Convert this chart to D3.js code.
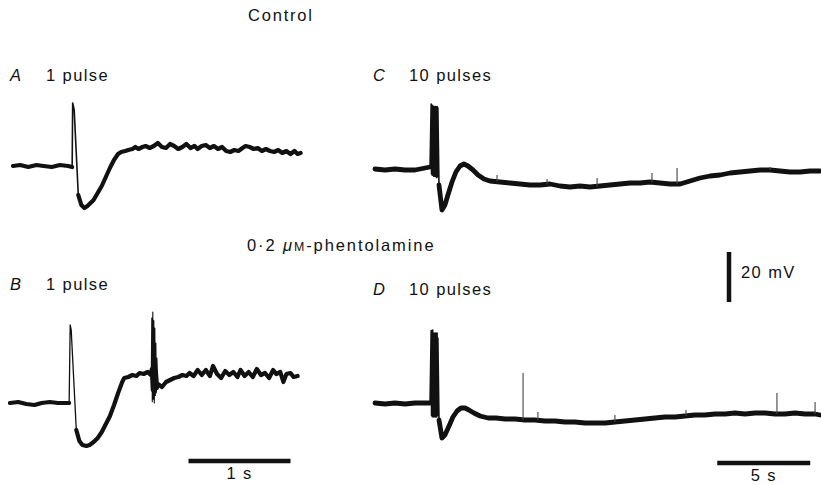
<!DOCTYPE html>
<html>
<head>
<meta charset="utf-8">
<script src="https://cdn.jsdelivr.net/npm/d3@7"></script>
<style>
  html, body { margin: 0; padding: 0; background: #fff; }
  svg { display: block; }
  text { font-family: "Liberation Sans", Arial, sans-serif; fill: #111; }
</style>
</head>
<body>
<svg id="chart"></svg>
<script>
const width = 821;
const height = 485;

// [time (s), membrane potential (mV)], null = gap where the fast spike is drawn thin
const traceA = [[0,0],[0.07,0.4],[0.15,-0.4],[0.23,0.4],[0.30,0],[0.38,-0.4],[0.46,0.4],[0.54,0],[0.58,-0.4],[0.61,null],
  [0.64,-11.6],[0.67,-15.6],[0.70,-16.8],[0.73,-16],[0.75,-15.2],[0.79,-13.6],[0.83,-10.8],[0.87,-8],[0.91,-4.4],[0.95,-0.8],
  [0.99,2.4],[1.03,4.8],[1.06,5.6],[1.10,6],[1.13,6.4],[1.17,6.8],[1.20,7.6],[1.23,6.8],[1.27,7.6],[1.30,8],[1.34,7.2],
  [1.38,8],[1.42,9.2],[1.46,7.6],[1.50,7.2],[1.54,8.8],[1.58,8],[1.62,6.8],[1.66,7.6],[1.70,8.8],[1.74,7.2],[1.78,8],
  [1.81,6.8],[1.85,8],[1.89,8.4],[1.93,7.2],[1.97,8],[2.01,6.8],[2.05,7.6],[2.09,6],[2.13,5.6],[2.17,6.4],[2.21,6],
  [2.25,7.2],[2.28,8],[2.32,7.6],[2.36,6.8],[2.40,7.2],[2.44,6],[2.48,6.8],[2.52,6],[2.56,5.6],[2.60,6.4],[2.64,5.2],
  [2.68,6],[2.72,4.8],[2.76,6],[2.79,4.8],[2.82,5.2]];
const spikeA = [[0.58,-0.4],[0.585,25.2],[0.60,22.4],[0.64,-11.6]];

const traceB = [[0,0],[0.08,0.4],[0.16,-0.4],[0.24,-0.8],[0.31,0],[0.39,0.4],[0.47,0],[0.55,0],[0.58,0],[0.62,null],
  [0.65,-10.8],[0.68,-15.2],[0.71,-16.8],[0.75,-17.2],[0.78,-16.8],[0.82,-15.6],[0.86,-14],[0.90,-11.6],[0.94,-8.4],
  [0.98,-5.2],[1.02,-0.8],[1.06,4],[1.10,8.4],[1.12,10],[1.16,10.4],[1.20,11.2],[1.24,10.8],[1.27,12],[1.31,11.6],
  [1.35,12.4],[1.38,11.2],[1.39,13.6],[1.40,5.2],[1.41,14],[1.42,4.4],[1.43,12],[1.44,6],[1.45,7.6],[1.49,6.4],[1.53,8.4],
  [1.57,9.2],[1.61,10],[1.65,10.4],[1.69,11.2],[1.73,10.8],[1.76,12],[1.80,10.8],[1.84,13.2],[1.88,11.2],[1.92,13.2],
  [1.96,10.8],[1.99,14.8],[2.03,11.6],[2.07,10],[2.11,12.8],[2.15,11.2],[2.19,12.4],[2.23,10.4],[2.26,13.2],[2.30,10.8],
  [2.34,12.4],[2.38,10.4],[2.42,13.6],[2.46,11.2],[2.50,12],[2.54,10],[2.58,13.2],[2.61,11.6],[2.65,12.4],[2.68,8.4],
  [2.71,11.6],[2.75,12],[2.78,10.4],[2.82,10.8]];
const spikeB = [[0.58,0],[0.59,31.2],[0.60,29.2],[0.65,-10.8]];
const burstB = [[1.385,11],[1.39,34],[1.395,0.5],[1.40,36.4],[1.405,1.5],[1.41,33],[1.415,0],[1.42,30],[1.425,3],
  [1.43,24],[1.435,5],[1.44,18],[1.45,7.6]];

const traceC = [[0,0],[0.54,-0.4],[1.08,0],[1.61,-0.4],[2.15,-0.4],[2.69,0.4],[2.96,0.8],[3.2,null],
  [3.44,-6.4],[3.60,-16.4],[3.76,-14.4],[3.92,-10.4],[4.14,-5.2],[4.35,-1.2],[4.57,1.2],[4.78,2],[5.0,1.2],[5.27,-0.4],
  [5.54,-2.4],[5.86,-4],[6.18,-4.8],[6.72,-5.2],[7.26,-5.6],[7.8,-6],[8.33,-6.4],[8.87,-6.4],[9.41,-6],[9.95,-6.8],
  [10.48,-7.2],[11.02,-6.8],[11.56,-7.2],[12.1,-6.8],[12.63,-6.4],[13.17,-6],[13.71,-5.6],[14.25,-5.6],[14.78,-5.2],
  [15.32,-5.6],[15.86,-6],[16.4,-6],[16.94,-4.8],[17.47,-3.6],[18.01,-2.8],[18.55,-2.4],[19.09,-1.6],[19.62,-1.2],
  [20.16,-0.8],[20.7,-0.4],[21.24,-0.4],[21.77,-0.8],[22.31,-1.2],[22.85,-1.2],[23.39,-0.8],[23.92,-0.8]];
const burstC = [[2.96,0.8],[3.02,26],[3.04,-2],[3.06,25],[3.08,-2.5],[3.10,25.5],[3.12,-2],[3.14,24],[3.16,-3],[3.18,25],
  [3.20,-2.5],[3.22,24.5],[3.24,-3],[3.26,25],[3.28,-3],[3.30,24],[3.32,-3.5],[3.34,25],[3.36,-3],[3.38,24.5],[3.44,-6.4]];
// [time, from mV, to mV]
const eventsC = [[6.56,-5,-2.4],[9.25,-6.2,-4],[11.94,-7,-3.6],[14.89,-5.2,-1.6],[16.24,-6,0.4],[21.24,-0.4,0.8]];

const traceD = [[0,0],[0.54,-0.4],[1.08,0],[1.61,-0.4],[2.15,0],[2.69,0],[2.96,0],[3.2,null],
  [3.44,-6.8],[3.60,-14],[3.76,-12.8],[3.98,-9.2],[4.19,-5.6],[4.41,-3.2],[4.62,-2],[4.84,-2],[5.05,-2.8],[5.32,-4],
  [5.65,-5.2],[6.08,-6],[6.51,-6],[6.99,-6.4],[7.53,-6.4],[8.06,-6.8],[8.6,-6.8],[9.14,-7.2],[9.68,-7.2],[10.22,-7.6],
  [10.75,-7.6],[11.29,-8],[11.83,-8],[12.37,-8],[12.9,-7.6],[13.44,-7.2],[13.98,-6.8],[14.52,-6.4],[15.05,-6],
  [15.59,-5.6],[16.13,-5.6],[16.67,-5.2],[17.2,-4.8],[17.74,-4.8],[18.28,-4.4],[18.82,-4.4],[19.35,-4],[19.89,-4.4],
  [20.43,-4],[20.97,-4],[21.51,-4.4],[22.04,-4.4],[22.58,-4],[23.12,-4.4],[23.66,-4.4],[23.92,-4.8]];
const burstD = [[2.96,0],[3.02,29],[3.04,-5],[3.06,28],[3.08,-5.5],[3.10,29.2],[3.12,-5],[3.14,27],[3.16,-5.6],[3.18,28],
  [3.20,-5],[3.22,27.5],[3.24,-5.6],[3.26,28],[3.28,-5],[3.30,27],[3.32,-5.6],[3.34,28],[3.36,-5],[3.38,26],[3.44,-6.8]];
const eventsD = [[7.96,-6.8,12],[8.76,-6.8,-3.6],[12.9,-7.6,-4.8],[16.72,-5.2,-2.8],[21.61,-4.4,4],[23.66,-4.4,0.4]];

const panelLetters = ["A", "B", "C", "D"];
const panelTitles = ["1 pulse", "1 pulse", "10 pulses", "10 pulses"];
const scaleTime = [1, 5];          // s
const scaleTimeLabels = ["1 s", "5 s"];
const scaleVolt = 20;              // mV

const svg = d3.select('#chart')
  .attr('width', width)
  .attr('height', height);

svg.append('rect').attr('width', width).attr('height', height).attr('fill', '#fff');

const mvPx = 2.5;
const layout = [
  { x0: 13, base: 166, sPx: 102, tMax: 2.85, ly: 81, lx: 10, w: 4.2 },
  { x0: 10, base: 403, sPx: 102, tMax: 2.85, ly: 290, lx: 10, w: 4.2 },
  { x0: 375, base: 169, sPx: 18.6, tMax: 24, ly: 81, lx: 373, w: 4.8 },
  { x0: 375, base: 403, sPx: 18.6, tMax: 24, ly: 295, lx: 373, w: 4.8 }
];

const scales = layout.map(p => ({
  x: d3.scaleLinear().domain([0, p.tMax]).range([p.x0, p.x0 + p.tMax * p.sPx]),
  y: d3.scaleLinear().domain([0, 20]).range([p.base, p.base - 20 * mvPx])
}));

const drawPath = (data, s, w, color) => {
  const line = d3.line()
    .defined(d => d[1] !== null)
    .x(d => s.x(d[0]))
    .y(d => s.y(d[1]));
  svg.append('path')
    .datum(data)
    .attr('d', line)
    .attr('fill', 'none')
    .attr('stroke', color || '#111')
    .attr('stroke-width', w)
    .attr('stroke-linejoin', 'round')
    .attr('stroke-linecap', 'round');
};

const traces = [traceA, traceB, traceC, traceD];
traces.forEach((t, i) => drawPath(t, scales[i], layout[i].w));

drawPath(spikeA, scales[0], 1.6);
drawPath(spikeB, scales[1], 1.3);
drawPath(burstB, scales[1], 1.1);
drawPath(burstC, scales[2], 1.6);
drawPath(burstD, scales[3], 1.6);

const drawEvents = (events, s) => {
  svg.append('g').selectAll('line')
    .data(events)
    .enter().append('line')
    .attr('x1', d => s.x(d[0]))
    .attr('x2', d => s.x(d[0]))
    .attr('y1', d => s.y(d[1]))
    .attr('y2', d => s.y(d[2]))
    .attr('stroke', '#444')
    .attr('stroke-width', 1.1);
};
drawEvents(eventsC, scales[2]);
drawEvents(eventsD, scales[3]);

// labels
const fontSize = 16.5;
const ls = 1.4;
layout.forEach((p, i) => {
  svg.append('text')
    .attr('x', p.lx).attr('y', p.ly)
    .attr('font-size', fontSize)
    .attr('font-style', 'italic')
    .text(panelLetters[i]);
  svg.append('text')
    .attr('x', p.lx + 36).attr('y', p.ly)
    .attr('font-size', fontSize)
    .attr('letter-spacing', ls)
    .text(panelTitles[i]);
});

svg.append('text')
  .attr('x', 248).attr('y', 21)
  .attr('font-size', fontSize)
  .attr('letter-spacing', 1.8)
  .text('Control');

const phen = svg.append('text')
  .attr('x', 247).attr('y', 251)
  .attr('font-size', fontSize)
  .attr('letter-spacing', 1.9);
phen.append('tspan').text('0·2 ');
phen.append('tspan').attr('font-style', 'italic').text('μ');
phen.append('tspan').attr('font-size', fontSize * 0.75).text('M');
phen.append('tspan').text('-phentolamine');

// scale bars
const barW = 4.5;
const tBars = [
  { s: scales[1], t0: 1.75, y: 461 },
  { s: scales[3], t0: 18.4, y: 463 }
];
tBars.forEach((b, i) => {
  const xa = b.s.x(b.t0), xb = b.s.x(b.t0 + scaleTime[i]);
  svg.append('line')
    .attr('x1', xa).attr('x2', xb)
    .attr('y1', b.y).attr('y2', b.y)
    .attr('stroke', '#111').attr('stroke-width', barW);
  svg.append('text')
    .attr('x', (xa + xb) / 2).attr('y', b.y + 18)
    .attr('text-anchor', 'middle')
    .attr('font-size', fontSize)
    .attr('letter-spacing', ls)
    .text(scaleTimeLabels[i]);
});

const vTop = 252;
const vLen = scales[3].y(0) - scales[3].y(scaleVolt);
svg.append('line')
  .attr('x1', 729).attr('x2', 729)
  .attr('y1', vTop).attr('y2', vTop + vLen)
  .attr('stroke', '#111').attr('stroke-width', barW);
svg.append('text')
  .attr('x', 741).attr('y', 278)
  .attr('font-size', fontSize)
  .attr('letter-spacing', ls)
  .text(scaleVolt + ' mV');
</script>
</body>
</html>
